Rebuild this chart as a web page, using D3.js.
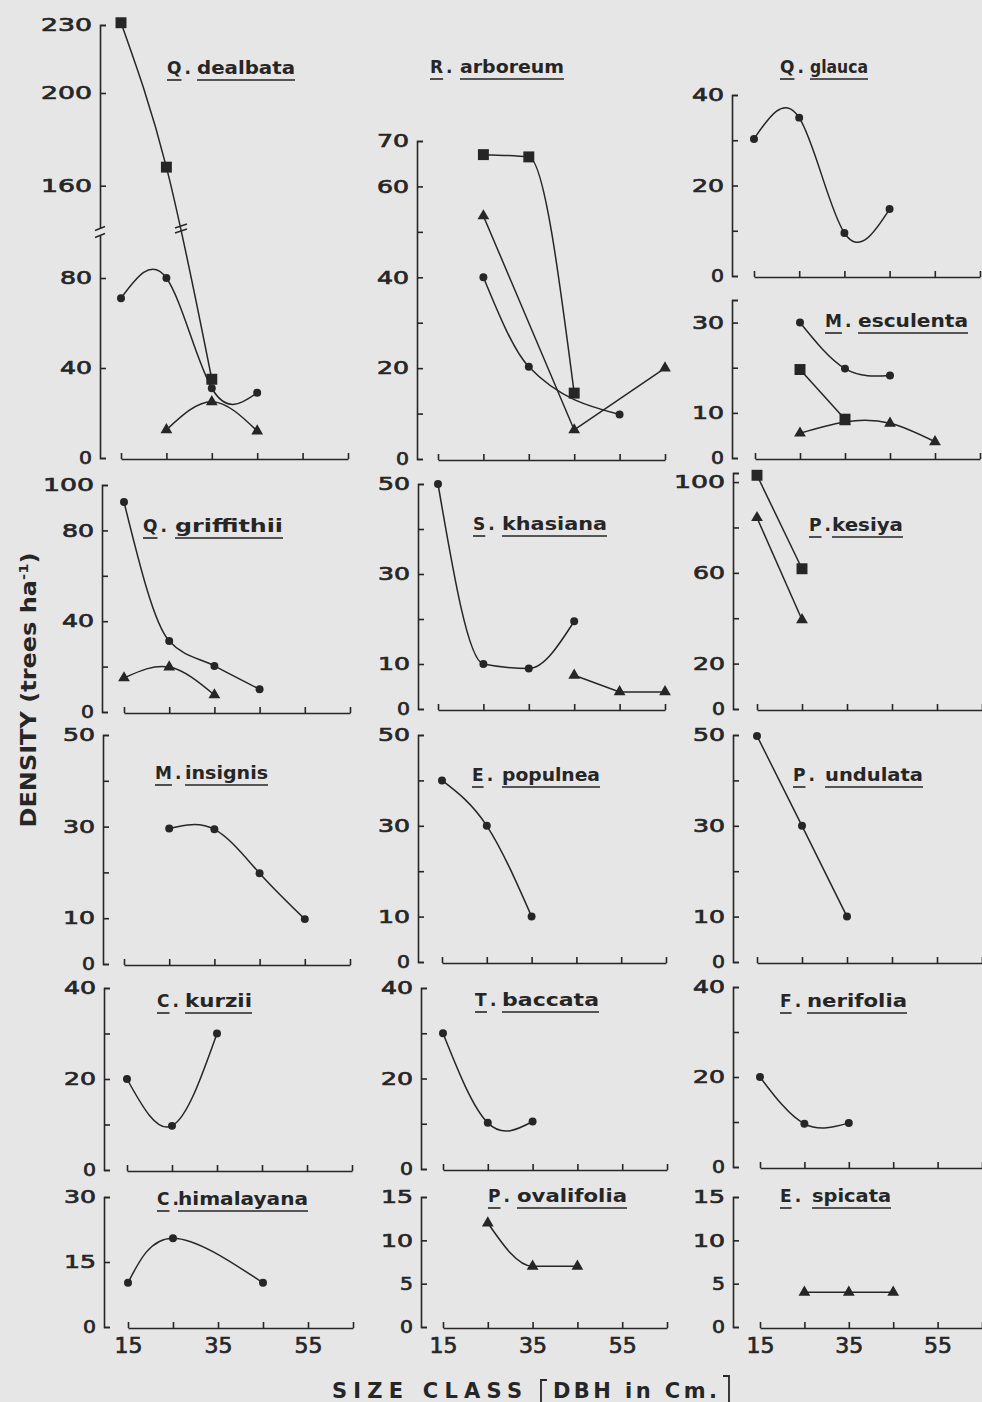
<!DOCTYPE html>
<html>
<head>
<meta charset="utf-8">
<script src="https://cdn.jsdelivr.net/npm/d3@7"></script>
<style>
	body { margin: 0; background: #e6e6e6; }
	svg { display: block; }
	text { font-family: "DejaVu Sans", sans-serif; fill: #262626; }
</style>
</head>
<body>
<svg id="chart" width="982" height="1402"></svg>
<script>
// size classes (DBH, cm) on every x axis
var sizeClasses = [15, 25, 35, 45, 55, 65];
var bottomLabels = [15, 35, 55];

// density values, trees per ha, as [size class, density]
var dealbataSquare = [[15, 231], [25, 168], [35, 35]];
var dealbataCircle = [[15, 71], [25, 80], [35, 31], [45, 29]];
var dealbataTriangle = [[25, 12.5], [35, 25], [45, 12]];
var arboreumSquare = [[25, 67], [35, 66.5], [45, 14.5]];
var arboreumCircle = [[25, 40], [35, 20.3], [55, 9.8]];
var arboreumTriangle = [[25, 53.5], [45, 6.4], [65, 20]];
var glaucaCircle = [[15, 30.3], [25, 35], [35, 9.5], [45, 14.8]];
var esculentaCircle = [[25, 30], [35, 19.8], [45, 18.3]];
var esculentaSquare = [[25, 19.6], [35, 8.6]];
var esculentaTriangle = [[25, 5.5], [35, 8], [45, 7.7], [55, 3.6]];
var griffithiiCircle = [[15, 92.5], [25, 31.3], [35, 20.3], [45, 10]];
var griffithiiTriangle = [[15, 15], [25, 19.8], [35, 7.5]];
var khasianaCircle = [[15, 50], [25, 10], [35, 9], [45, 19.5]];
var khasianaTriangle = [[45, 7.5], [55, 3.8], [65, 3.8]];
var kesiyaSquare = [[15, 103], [25, 61.8]];
var kesiyaTriangle = [[15, 84.3], [25, 39.3]];
var insignisCircle = [[25, 29.6], [35, 29.4], [45, 19.8], [55, 9.8]];
var populneaCircle = [[15, 40], [25, 30], [35, 10]];
var undulataCircle = [[15, 49.8], [25, 30], [35, 10]];
var kurziiCircle = [[15, 20], [25, 9.7], [35, 30]];
var himalayanaCircle = [[15, 10.2], [25, 20.5], [45, 10.2]];
var baccataCircle = [[15, 30], [25, 10.2], [35, 10.5]];
var ovalifoliaTriangle = [[25, 12], [35, 7], [45, 7]];
var nerifoliaCircle = [[15, 20], [25, 9.6], [35, 9.8]];
var spicataTriangle = [[25, 4], [35, 4], [45, 4]];

// y ticks and the ones that carry a label
var dealbataTicks = [0, 40, 80, 160, 200, 230];
var arboreumTicks = [0, 10, 20, 30, 40, 50, 60, 70];
var arboreumLabels = [0, 20, 40, 60, 70];
var ticks40 = [0, 10, 20, 30, 40];
var labels40 = [0, 20, 40];
var esculentaTicks = [0, 10, 20, 30, 35];
var esculentaLabels = [0, 10, 30];
var griffithiiTicks = [0, 20, 40, 60, 80, 100];
var griffithiiLabels = [0, 40, 80, 100];
var ticks50 = [0, 10, 20, 30, 40, 50];
var labels50 = [0, 10, 30, 50];
var kesiyaTicks = [0, 20, 40, 60, 80, 100, 104];
var kesiyaLabels = [0, 20, 60, 100];
var himalayanaTicks = [0, 15, 30];
var ticks15 = [0, 5, 10, 15];

var ink = '#262626';
var bg = '#e6e6e6';

// panel layout: axis x, x range, y domain/range, title [letter x, baseline, name x, name end]
var panels = [
	{ genus: 'Q', name: 'dealbata', series: [['square', dealbataSquare], ['circle', dealbataCircle], ['triangle', dealbataTriangle]],
		ticks: dealbataTicks, labels: dealbataTicks, ax: 100, xr: [121, 348],
		yd: [0, 100, 140, 200, 230], yr: [458, 233, 232, 93, 25], title: [167, 74, 197, 295], brk: true },
	{ genus: 'R', name: 'arboreum', series: [['square', arboreumSquare], ['circle', arboreumCircle], ['triangle', arboreumTriangle]],
		ticks: arboreumTicks, labels: arboreumLabels, ax: 417, xr: [438, 665], yd: [0, 70], yr: [459, 141], title: [430, 73, 460, 564] },
	{ genus: 'Q', name: 'glauca', series: [['circle', glaucaCircle]],
		ticks: ticks40, labels: labels40, ax: 732, xr: [754, 980], yd: [0, 40], yr: [276, 95], title: [780, 73, 810, 868] },
	{ genus: 'M', name: 'esculenta', series: [['circle', esculentaCircle], ['square', esculentaSquare], ['triangle', esculentaTriangle]],
		ticks: esculentaTicks, labels: esculentaLabels, ax: 732, xr: [755, 980], yd: [0, 35], yr: [458, 300], title: [825, 327, 858, 968] },
	{ genus: 'Q', name: 'griffithii', series: [['circle', griffithiiCircle], ['triangle', griffithiiTriangle]],
		ticks: griffithiiTicks, labels: griffithiiLabels, ax: 102, xr: [124, 350], yd: [0, 100], yr: [712, 485], title: [143, 532, 175, 283] },
	{ genus: 'S', name: 'khasiana', series: [['circle', khasianaCircle], ['triangle', khasianaTriangle]],
		ticks: ticks50, labels: labels50, ax: 418, xr: [438, 665], yd: [0, 50], yr: [709, 484], title: [473, 530, 502, 607] },
	{ genus: 'P', name: 'kesiya', series: [['square', kesiyaSquare], ['triangle', kesiyaTriangle]],
		ticks: kesiyaTicks, labels: kesiyaLabels, ax: 733, xr: [757, 982], yd: [0, 104], yr: [709, 473], title: [809, 531, 832, 903] },
	{ genus: 'M', name: 'insignis', series: [['circle', insignisCircle]],
		ticks: ticks50, labels: labels50, ax: 103, xr: [124, 350], yd: [0, 50], yr: [964, 735], title: [155, 779, 185, 268] },
	{ genus: 'E', name: 'populnea', series: [['circle', populneaCircle]],
		ticks: ticks50, labels: labels50, ax: 418, xr: [442, 666], yd: [0, 50], yr: [962, 735], title: [472, 781, 502, 600] },
	{ genus: 'P', name: 'undulata', series: [['circle', undulataCircle]],
		ticks: ticks50, labels: labels50, ax: 733, xr: [757, 982], yd: [0, 50], yr: [962, 735], title: [793, 781, 825, 923] },
	{ genus: 'C', name: 'kurzii', series: [['circle', kurziiCircle]],
		ticks: ticks40, labels: labels40, ax: 104, xr: [127, 352], yd: [0, 40], yr: [1170, 988], title: [157, 1007, 185, 252] },
	{ genus: 'T', name: 'baccata', series: [['circle', baccataCircle]],
		ticks: ticks40, labels: labels40, ax: 421, xr: [443, 667], yd: [0, 40], yr: [1169, 988], title: [475, 1006, 502, 599] },
	{ genus: 'F', name: 'nerifolia', series: [['circle', nerifoliaCircle]],
		ticks: ticks40, labels: labels40, ax: 733, xr: [760, 982], yd: [0, 40], yr: [1167, 987], title: [780, 1007, 807, 907] },
	{ genus: 'C', name: 'himalayana', series: [['circle', himalayanaCircle]],
		ticks: himalayanaTicks, labels: himalayanaTicks, ax: 104, xr: [128, 353], yd: [0, 30], yr: [1327, 1197], title: [157, 1205, 178, 308], bottom: true },
	{ genus: 'P', name: 'ovalifolia', series: [['triangle', ovalifoliaTriangle]],
		ticks: ticks15, labels: ticks15, ax: 421, xr: [443, 667], yd: [0, 15], yr: [1327, 1197], title: [488, 1202, 517, 627], bottom: true },
	{ genus: 'E', name: 'spicata', series: [['triangle', spicataTriangle]],
		ticks: ticks15, labels: ticks15, ax: 733, xr: [760, 982], yd: [0, 15], yr: [1327, 1197], title: [780, 1202, 812, 891], bottom: true }
];

// how each hand drawn curve was joined
var curveFor = {
	'arboreum-square': d3.curveMonotoneX,
	'arboreum-circle': d3.curveMonotoneX,
	'arboreum-triangle': d3.curveLinear,
	'esculenta-square': d3.curveLinear,
	'griffithii-circle': d3.curveMonotoneX,
	'khasiana-circle': d3.curveMonotoneX,
	'khasiana-triangle': d3.curveLinear,
	'kesiya-square': d3.curveLinear,
	'kesiya-triangle': d3.curveLinear,
	'undulata-circle': d3.curveLinear,
	'ovalifolia-triangle': d3.curveMonotoneX,
	'spicata-triangle': d3.curveLinear
};
var symbolType = { square: d3.symbolSquare, circle: d3.symbolCircle, triangle: d3.symbolTriangle };
var symbolSize = { square: 120, circle: 50, triangle: 60 };

var svg = d3.select('#chart');
svg.append('rect').attr('width', 982).attr('height', 1402).attr('fill', bg);

function labelWidth(s) {
	return 19 * s.length - 6;
}

panels.forEach(function (p) {
	var g = svg.append('g').attr('class', 'panel');
	var x = d3.scaleLinear().domain([15, 65]).range(p.xr);
	var y = d3.scaleLinear().domain(p.yd).range(p.yr);

	var yAxis = d3.axisLeft(y)
		.tickValues(p.ticks)
		.tickSizeInner(-6)
		.tickSizeOuter(-6)
		.tickPadding(8)
		.tickFormat(function (d) { return p.labels.indexOf(d) >= 0 ? d : ''; });
	var ya = g.append('g').attr('transform', 'translate(' + p.ax + ',0)').call(yAxis);
	ya.attr('font-family', null).attr('font-size', null);
	ya.selectAll('path, line').attr('stroke', ink).attr('stroke-width', 1.6);
	ya.selectAll('.tick text')
		.attr('font-size', 18)
		.style('stroke', ink).style('stroke-width', 0.7)
		.each(function () {
			var s = d3.select(this).text();
			if (s) d3.select(this).attr('textLength', labelWidth(s)).attr('lengthAdjust', 'spacingAndGlyphs');
		});

	var base = p.yr[0] + 1;
	var xAxis = d3.axisBottom(x)
		.tickValues(sizeClasses)
		.tickSizeInner(-6)
		.tickSizeOuter(0)
		.tickPadding(10)
		.tickFormat(function (d) { return p.bottom && bottomLabels.indexOf(d) >= 0 ? d : ''; });
	var xa = g.append('g').attr('transform', 'translate(0,' + base + ')').call(xAxis);
	xa.attr('font-family', null).attr('font-size', null);
	xa.selectAll('path, line').attr('stroke', ink).attr('stroke-width', 1.6);
	xa.selectAll('.tick text')
		.attr('font-size', 21)
		.style('stroke', ink).style('stroke-width', 0.7)
		.each(function () {
			if (d3.select(this).text()) d3.select(this).attr('textLength', 28).attr('lengthAdjust', 'spacingAndGlyphs');
		});

	// species title, genus letter and epithet underlined apart
	var t = p.title;
	var tg = g.append('g').attr('class', 'title').attr('font-size', 17).attr('font-weight', 'bold');
	var letter = tg.append('text').attr('x', t[0]).attr('y', t[1]).text(p.genus);
	var lw = letter.node().getBBox().width;
	tg.append('text').attr('x', t[0] + lw + 3).attr('y', t[1]).text('.');
	tg.append('text').attr('x', t[2]).attr('y', t[1]).text(p.name)
		.attr('textLength', t[3] - t[2]).attr('lengthAdjust', 'spacingAndGlyphs');
	tg.append('line').attr('x1', t[0]).attr('x2', t[0] + lw).attr('y1', t[1] + 6).attr('y2', t[1] + 6)
		.attr('stroke', ink).attr('stroke-width', 1.6);
	tg.append('line').attr('x1', t[2]).attr('x2', t[3]).attr('y1', t[1] + 6).attr('y2', t[1] + 6)
		.attr('stroke', ink).attr('stroke-width', 1.6);

	p.series.forEach(function (s) {
		var kind = s[0];
		var pts = s[1];
		var line = d3.line()
			.x(function (d) { return x(d[0]); })
			.y(function (d) { return y(d[1]); })
			.curve(curveFor[p.name + '-' + kind] || d3.curveNatural);
		var path = g.append('path').attr('d', line(pts))
			.attr('fill', 'none').attr('stroke', ink).attr('stroke-width', 1.5);

		g.selectAll(null).data(pts).enter().append('path')
			.attr('transform', function (d) { return 'translate(' + x(d[0]) + ',' + y(d[1]) + ')'; })
			.attr('d', d3.symbol().type(symbolType[kind]).size(symbolSize[kind]))
			.attr('fill', ink);

		// broken scale mark on the steep line
		if (p.brk && kind === 'square') {
			var node = path.node();
			var len = node.getTotalLength();
			var lo = 0, hi = len, by = 229;
			for (var i = 0; i < 30; i++) {
				var mid = (lo + hi) / 2;
				if (node.getPointAtLength(mid).y < by) lo = mid; else hi = mid;
			}
			var pt = node.getPointAtLength(lo);
			[-3, 2].forEach(function (o) {
				g.append('line')
					.attr('x1', pt.x - 6).attr('y1', pt.y + o + 2)
					.attr('x2', pt.x + 6).attr('y2', pt.y + o - 2)
					.attr('stroke', ink).attr('stroke-width', 1.5);
			});
		}
	});

	if (p.brk) {
		var by2 = y(120);
		g.append('rect').attr('x', p.ax - 3).attr('y', by2 - 4).attr('width', 6).attr('height', 7).attr('fill', bg);
		[-4, 3].forEach(function (o) {
			g.append('line')
				.attr('x1', p.ax - 5).attr('y1', by2 + o + 2)
				.attr('x2', p.ax + 5).attr('y2', by2 + o - 2)
				.attr('stroke', ink).attr('stroke-width', 1.5);
		});
	}
});

// axis titles
var yTitle = svg.append('text')
	.attr('transform', 'translate(36,690) rotate(-90)')
	.attr('text-anchor', 'middle')
	.attr('font-size', 21)
	.attr('font-weight', 'bold')
	.attr('textLength', 275)
	.attr('lengthAdjust', 'spacingAndGlyphs');
yTitle.append('tspan').text('DENSITY (trees ha');
yTitle.append('tspan').attr('dy', -8).attr('font-size', 13).text('-1');
yTitle.append('tspan').attr('dy', 8).text(')');

var xTitle = svg.append('g').attr('font-size', 21).attr('font-weight', 'bold');
xTitle.append('text').attr('x', 332).attr('y', 1398).text('SIZE CLASS')
	.attr('textLength', 190).attr('lengthAdjust', 'spacing');
xTitle.append('text').attr('x', 553).attr('y', 1398).text('DBH in Cm.')
	.attr('textLength', 164).attr('lengthAdjust', 'spacing');
xTitle.append('path').attr('d', 'M547,1380H541V1404').attr('fill', 'none').attr('stroke', ink).attr('stroke-width', 1.8);
xTitle.append('path').attr('d', 'M723,1376H729V1404').attr('fill', 'none').attr('stroke', ink).attr('stroke-width', 1.8);
</script>
</body>
</html>
